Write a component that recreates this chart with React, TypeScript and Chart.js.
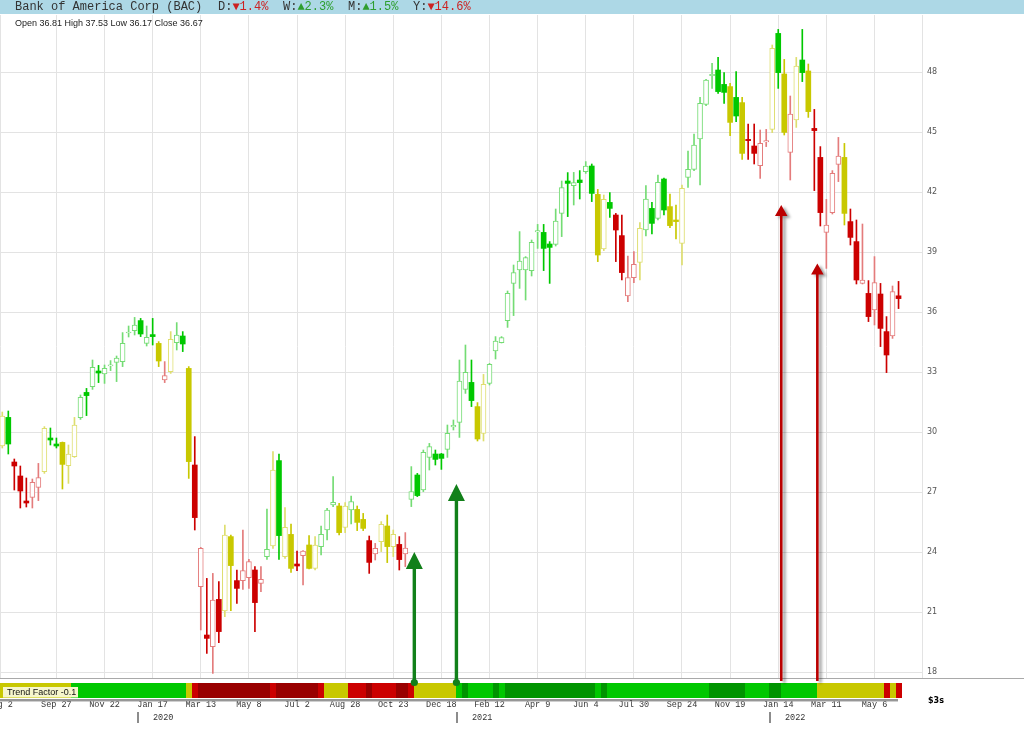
import React, { useEffect, useRef } from "react";
import { Chart, registerables } from "chart.js";

Chart.register(...registerables);

// ---------- DATA ----------
const FIRST_WEEK = -1; // week index 0 = Aug 2, 2019 (weekly bars)

const opens = [
  29.3, 30.73, 28.5, 27.8, 26.55, 26.73, 27.23, 28.02, 29.7, 29.4,
  29.48, 28.32, 28.77, 30.72, 31.98, 32.27, 33.05, 32.9, 33.3, 33.48,
  33.52, 34.95, 35.07, 35.57, 34.43, 34.87, 34.43, 32.6, 33.02, 34.47,
  34.8, 33.18, 28.35, 22.27, 19.85, 19.27, 21.63, 21.05, 24.77, 22.57,
  22.57, 22.72, 23.1, 22.43, 23.77, 24.3, 28.57, 23.77, 24.88, 23.4,
  23.82, 24.35, 23.18, 24.27, 25.1, 26.35, 26.3, 25.23, 26.1, 26.13,
  25.63, 24.57, 23.9, 24.52, 25.3, 24.27, 24.38, 23.9, 26.63, 27.85,
  27.1, 28.73, 28.9, 28.9, 29.13, 30.25, 30.48, 32.13, 32.48, 31.27,
  29.93, 32.43, 34.05, 34.47, 35.57, 37.43, 38.1, 38.1, 38.07, 40.0,
  39.98, 39.4, 39.38, 40.93, 42.55, 42.32, 42.6, 43.02, 43.3, 41.88,
  39.15, 41.48, 40.85, 39.82, 36.8, 37.72, 38.48, 40.1, 41.18, 40.68,
  42.65, 41.27, 40.6, 39.43, 42.73, 43.13, 44.65, 46.38, 47.82, 48.1,
  47.38, 47.27, 46.73, 46.47, 44.63, 44.3, 43.32, 44.5, 45.13, 49.93,
  47.9, 43.98, 45.6, 48.6, 48.05, 45.18, 43.73, 39.98, 40.97, 43.38,
  43.73, 40.52, 39.52, 37.43, 36.93, 36.1, 36.9, 35.02, 34.8, 36.81,
];
const highs = [
  31.0, 31.05, 28.65, 28.3, 27.7, 27.65, 28.43, 30.27, 30.2, 29.7,
  29.5, 29.35, 30.73, 31.85, 32.18, 33.6, 33.33, 33.35, 33.57, 33.8,
  34.97, 35.3, 35.73, 35.68, 35.3, 35.68, 34.52, 33.52, 35.02, 35.47,
  35.02, 33.27, 29.77, 24.23, 22.68, 22.93, 22.52, 25.35, 24.85, 23.1,
  25.1, 23.63, 23.27, 23.27, 26.15, 29.02, 28.9, 26.22, 25.4, 24.05,
  24.07, 24.82, 24.77, 25.3, 26.18, 27.77, 26.43, 26.47, 26.8, 26.3,
  25.93, 24.8, 24.43, 25.52, 25.85, 25.1, 24.77, 24.97, 28.27, 27.93,
  29.1, 29.43, 29.1, 28.93, 30.35, 30.6, 33.6, 34.35, 33.6, 31.47,
  32.88, 33.43, 34.77, 34.77, 37.05, 38.35, 40.02, 38.77, 39.6, 40.38,
  40.38, 39.52, 41.15, 42.55, 42.97, 42.98, 43.07, 43.52, 43.4, 42.13,
  41.85, 41.97, 40.93, 40.85, 38.8, 39.02, 40.47, 42.32, 41.48, 42.85,
  42.7, 41.9, 41.35, 42.35, 44.05, 44.9, 46.73, 47.63, 48.43, 48.73,
  47.97, 47.43, 48.02, 46.73, 45.4, 45.4, 45.1, 45.13, 49.35, 50.13,
  48.63, 46.8, 48.73, 50.13, 48.4, 46.13, 44.27, 41.63, 43.07, 44.73,
  44.43, 41.15, 40.6, 40.4, 37.57, 38.77, 37.43, 35.77, 37.3, 37.53,
];
const lows = [
  29.2, 28.9, 27.1, 26.2, 26.25, 26.2, 26.57, 27.93, 29.35, 29.2,
  27.15, 27.43, 28.73, 30.63, 30.82, 32.13, 32.47, 32.43, 33.07, 32.52,
  33.27, 34.75, 34.85, 34.77, 34.3, 34.35, 33.27, 32.47, 32.93, 34.1,
  34.02, 27.68, 25.1, 20.1, 18.93, 17.93, 19.47, 20.77, 21.07, 21.43,
  22.13, 22.18, 20.02, 22.02, 23.63, 24.18, 23.63, 23.68, 22.98, 23.07,
  22.35, 23.15, 23.1, 23.85, 24.6, 26.27, 24.85, 24.97, 25.4, 25.07,
  25.07, 22.93, 23.6, 24.02, 23.47, 23.77, 23.1, 23.27, 26.27, 26.77,
  27.02, 28.1, 28.35, 28.13, 28.73, 30.1, 29.73, 31.93, 31.27, 29.55,
  29.55, 32.35, 33.65, 34.45, 35.23, 35.82, 37.18, 36.6, 37.8, 39.18,
  38.07, 37.43, 39.3, 39.77, 40.77, 41.35, 41.65, 42.93, 41.52, 38.52,
  39.07, 40.73, 38.52, 37.6, 36.52, 37.47, 37.6, 39.8, 39.9, 40.6,
  40.85, 40.22, 39.65, 38.35, 42.23, 43.07, 42.35, 46.32, 47.18, 46.93,
  46.43, 44.82, 45.52, 43.63, 43.63, 43.4, 42.68, 44.27, 44.97, 47.18,
  44.85, 42.6, 45.23, 47.52, 45.73, 42.07, 40.3, 38.18, 40.9, 42.52,
  40.35, 39.35, 37.4, 37.4, 35.52, 35.35, 34.27, 32.97, 34.68, 36.17,
];
const closes = [
  30.8, 29.4, 28.3, 27.05, 26.45, 27.48, 27.72, 30.18, 29.6, 29.3,
  28.38, 28.9, 30.35, 31.73, 31.82, 33.23, 32.95, 33.18, 33.36, 33.7,
  34.43, 35.0, 35.35, 34.9, 34.73, 34.77, 33.55, 32.82, 34.63, 34.85,
  34.4, 28.52, 25.72, 24.18, 19.68, 21.6, 20.02, 24.85, 23.32, 22.18,
  23.07, 23.52, 21.47, 22.63, 24.13, 28.1, 24.82, 25.23, 23.18, 23.3,
  24.05, 23.18, 24.35, 24.88, 26.1, 26.48, 24.97, 26.3, 26.52, 25.48,
  25.18, 23.48, 24.18, 25.38, 24.27, 24.88, 23.62, 24.2, 27.02, 26.82,
  28.98, 29.27, 28.63, 28.68, 29.93, 30.33, 32.55, 32.98, 31.57, 29.65,
  32.38, 33.38, 34.55, 34.72, 36.93, 37.97, 38.55, 38.72, 39.48, 40.07,
  39.18, 39.23, 40.55, 42.22, 42.43, 42.47, 42.47, 43.3, 41.93, 38.85,
  41.63, 41.18, 40.1, 37.97, 37.72, 38.38, 40.18, 41.65, 40.43, 42.48,
  41.1, 40.32, 40.52, 42.18, 43.13, 44.35, 46.43, 47.6, 47.88, 47.02,
  46.98, 45.48, 45.8, 43.93, 44.57, 43.93, 44.43, 44.57, 49.18, 47.97,
  44.98, 45.9, 48.3, 47.97, 46.02, 45.07, 40.97, 40.35, 42.93, 43.8,
  40.93, 39.73, 37.6, 37.6, 35.77, 37.47, 35.18, 33.85, 37.02, 36.67,
];
const candleColors = [
  "y","g","r","r","r","r","r","y","g","g",
  "y","y","y","g","g","g","g","g","g","g",
  "g","g","g","g","g","g","y","r","y","g",
  "g","y","r","r","r","r","r","y","y","r",
  "r","r","r","r","g","y","g","y","y","r",
  "r","y","y","g","g","g","y","y","g","y",
  "y","r","r","y","y","y","r","r","g","g",
  "g","g","g","g","g","g","g","g","g","y",
  "y","g","g","g","g","g","g","g","g","g",
  "g","g","g","g","g","g","g","g","g","y",
  "y","g","r","r","r","r","y","g","g","g",
  "g","y","y","y","g","g","g","g","g","g",
  "g","y","g","y","r","r","r","r","y","g",
  "y","r","y","g","y","r","r","r","r","r",
  "y","r","r","r","r","r","r","r","r","r",
];

const tickLabels = [
  "Aug 2", "Sep 27", "Nov 22", "Jan 17", "Mar 13", "May 8", "Jul 2",
  "Aug 28", "Oct 23", "Dec 18", "Feb 12", "Apr 9", "Jun 4", "Jul 30",
  "Sep 24", "Nov 19", "Jan 14", "Mar 11", "May 6",
];
const years = ["2020", "2021", "2022"];
const yearFirstWeek = [22, 75, 127];

const trendStart = [
  -2, 11, 30, 31, 32, 44, 45, 52, 53, 57,
  60, 61, 65, 67, 68, 75, 76, 77, 81, 82,
  83, 98, 99, 100, 117, 123, 127, 129, 135, 146,
  147, 148,
];
const trendLevel = [
  "y", "g", "y", "r", "R", "r", "R", "r", "y", "r",
  "R", "r", "R", "r", "y", "g", "G", "g", "G", "g",
  "G", "g", "G", "g", "G", "g", "G", "g", "y", "r",
  "y", "r",
];
const LAST_WEEK = 148;

const signalWeek = [67.5, 74.5, 128.5, 134.5];
const signalPrice = [24.0, 27.4, 41.35, 38.43];
const signalType = ["buy", "buy", "sell", "sell"];

// ---------- STYLE ----------
const FULL: Record<string, string> = { g: "#00c800", y: "#c8c800", r: "#cc0000" };
const LIGHT: Record<string, string> = { g: "#74dc74", y: "#dede6e", r: "#e47c7c" };
const TREND: Record<string, string> = {
  g: "#00c800", G: "#009400", y: "#c8c800", r: "#cc0000", R: "#990000",
};

const overlayPlugin = {
  id: "overlay",
  afterDraw(chart: any) {
    const { ctx, chartArea } = chart;
    const x = chart.scales.x;
    const y = chart.scales.y;
    const bottom = chartArea.bottom;
    const bandTop = bottom + 5;
    const bandH = 15;
    ctx.save();

    // separator line under price panel
    ctx.strokeStyle = "#a9a9a9";
    ctx.lineWidth = 1;
    ctx.beginPath();
    ctx.moveTo(0, bottom + 0.5);
    ctx.lineTo(chart.width, bottom + 0.5);
    ctx.stroke();

    // trend factor band
    for (let s = 0; s < trendStart.length; s++) {
      const endW = s + 1 < trendStart.length ? trendStart[s + 1] - 1 : LAST_WEEK;
      const x0 = Math.max(0, Math.round(x.getPixelForValue(trendStart[s] - 0.5)));
      const x1 = Math.round(x.getPixelForValue(endW + 0.5));
      ctx.fillStyle = TREND[trendLevel[s]];
      ctx.fillRect(x0, bandTop, x1 - x0, bandH);
    }
    const bandEnd = Math.round(x.getPixelForValue(LAST_WEEK + 0.5));
    ctx.strokeStyle = "rgba(70,70,70,0.75)";
    ctx.lineWidth = 1.5;
    ctx.beginPath();
    ctx.moveTo(0, bandTop + bandH + 2);
    ctx.lineTo(bandEnd - 4, bandTop + bandH + 2);
    ctx.stroke();
    ctx.strokeStyle = "rgba(160,160,160,0.5)";
    ctx.lineWidth = 1;
    ctx.beginPath();
    ctx.moveTo(0, bandTop + bandH + 3.5);
    ctx.lineTo(bandEnd - 4, bandTop + bandH + 3.5);
    ctx.stroke();

    // trend factor label
    ctx.fillStyle = "#f6f6cc";
    ctx.fillRect(3, bandTop + 4, 75, 10.5);
    ctx.fillStyle = "#111";
    ctx.font = '9px "Liberation Sans", Arial, sans-serif';
    ctx.textBaseline = "middle";
    ctx.textAlign = "left";
    ctx.fillText("Trend Factor -0.1", 7, bandTop + 9.5);

    // odd label at right
    ctx.font = 'bold 8px "DejaVu Sans", sans-serif';
    ctx.fillStyle = "#000";
    ctx.fillText("$3s", 928, bandTop + bandH + 3);

    // signal arrows
    for (let k = 0; k < signalWeek.length; k++) {
      const px = x.getPixelForValue(signalWeek[k]);
      const tipY = y.getPixelForValue(signalPrice[k]);
      const buy = signalType[k] === "buy";
      const headH = buy ? 17 : 11;
      const headW = buy ? 17 : 12.5;
      const shaftW = buy ? 3.4 : 2.6;
      const baseY = buy ? bandTop - 0.5 : bandTop - 2;
      ctx.save();
      if (!buy) {
        ctx.shadowColor = "rgba(0,0,0,0.4)";
        ctx.shadowOffsetX = 3;
        ctx.shadowOffsetY = 2;
        ctx.shadowBlur = 3;
      }
      ctx.fillStyle = buy ? "#12801a" : "#bb0000";
      ctx.beginPath();
      ctx.moveTo(px, tipY);
      ctx.lineTo(px + headW / 2, tipY + headH);
      ctx.lineTo(px + shaftW / 2, tipY + headH);
      ctx.lineTo(px + shaftW / 2, baseY);
      ctx.lineTo(px - shaftW / 2, baseY);
      ctx.lineTo(px - shaftW / 2, tipY + headH);
      ctx.lineTo(px - headW / 2, tipY + headH);
      ctx.closePath();
      ctx.fill();
      if (buy) {
        ctx.beginPath();
        ctx.arc(px, baseY, 3.6, 0, Math.PI * 2);
        ctx.fill();
      }
      ctx.restore();
    }

    // year markers
    ctx.font = '8.5px "Liberation Mono", "DejaVu Sans Mono", monospace';
    ctx.textBaseline = "middle";
    ctx.textAlign = "left";
    for (let k = 0; k < years.length; k++) {
      const px = Math.round(x.getPixelForValue(yearFirstWeek[k] - 0.38));
      ctx.strokeStyle = "#666";
      ctx.lineWidth = 1.5;
      ctx.beginPath();
      ctx.moveTo(px, 712);
      ctx.lineTo(px, 723);
      ctx.stroke();
      ctx.fillStyle = "#333";
      ctx.fillText(years[k], px + 15, 718);
    }
    ctx.restore();
  },
};

export default function App() {
  const canvasRef = useRef<HTMLCanvasElement | null>(null);

  useEffect(() => {
    const canvas = canvasRef.current;
    if (!canvas) return;
    const weeks = opens.map((_, k) => FIRST_WEEK + k);
    const isUp = (k: number) => closes[k] >= opens[k];
    const wickData = weeks.map((w, k) => ({ x: w, y: [lows[k], highs[k]] }));
    const bodyData = weeks.map((w, k) => ({
      x: w,
      y: [Math.min(opens[k], closes[k]), Math.max(opens[k], closes[k])],
    }));

    const chart = new Chart(canvas, {
      type: "bar",
      data: {
        datasets: [
          {
            label: "body",
            data: bodyData as any,
            order: 0,
            grouped: false,
            barThickness: 5,
            minBarLength: 1,
            borderSkipped: false,
            backgroundColor: weeks.map((_, k) => (isUp(k) ? "#ffffff" : FULL[candleColors[k]])),
            borderColor: weeks.map((_, k) => (isUp(k) ? LIGHT[candleColors[k]] : FULL[candleColors[k]])),
            borderWidth: weeks.map((_, k) => (isUp(k) ? 1 : 0)),
          } as any,
          {
            label: "wick",
            data: wickData as any,
            order: 1,
            grouped: false,
            barThickness: 1,
            borderWidth: 0,
            backgroundColor: weeks.map((_, k) => (isUp(k) ? LIGHT[candleColors[k]] : FULL[candleColors[k]])),
          } as any,
        ],
      },
      options: {
        animation: false,
        responsive: false,
        devicePixelRatio: 1,
        layout: { padding: { top: 15, left: 0, right: 0, bottom: 0 } },
        plugins: { legend: { display: false }, tooltip: { enabled: false } },
        scales: {
          x: {
            type: "linear",
            min: -1.38,
            max: 151.9,
            offset: false,
            position: "bottom",
            grid: { color: "#e3e3e3", lineWidth: 1, drawTicks: false, offset: false },
            border: { display: false },
            ticks: {
              stepSize: 8,
              autoSkip: false,
              maxRotation: 0,
              padding: 22,
              color: "#333",
              font: { family: '"Liberation Mono", "DejaVu Sans Mono", monospace', size: 8.5 },
              callback: (v: any) => tickLabels[Math.round(Number(v) / 8)] ?? "",
            },
            afterFit: (s: any) => {
              s.height = 57;
              s.paddingLeft = 0;
              s.paddingRight = 0;
            },
          } as any,
          y: {
            type: "linear",
            position: "right",
            min: 17.7,
            max: 50.85,
            grid: { color: "#e3e3e3", lineWidth: 1, drawTicks: false },
            border: { display: false },
            ticks: {
              stepSize: 3,
              includeBounds: false,
              padding: 5,
              color: "#555",
              font: { family: '"DejaVu Sans", sans-serif', size: 8 },
            },
            afterFit: (s: any) => {
              s.width = 102;
              s.paddingTop = 0;
              s.paddingBottom = 0;
            },
          } as any,
        },
      },
      plugins: [overlayPlugin],
    });
    return () => chart.destroy();
  }, []);

  const mono = '"Liberation Mono", "DejaVu Sans Mono", monospace';
  const part = (left: number, children: React.ReactNode) => (
    <span
      style={{
        position: "absolute",
        left,
        top: 0,
        font: `12px/14px ${mono}`,
        color: "#333",
        whiteSpace: "pre",
      }}
    >
      {children}
    </span>
  );

  return (
    <div
      style={{
        position: "absolute",
        left: 0,
        top: 0,
        width: 1024,
        height: 735,
        background: "#ffffff",
        overflow: "hidden",
      }}
    >
      <canvas
        ref={canvasRef}
        width={1024}
        height={735}
        style={{ position: "absolute", left: 0, top: 0, width: 1024, height: 735 }}
      />
      <div
        style={{
          position: "absolute",
          left: 0,
          top: 0,
          width: 1024,
          height: 14,
          background: "#add8e6",
        }}
      >
        {part(15, "Bank of America Corp (BAC)")}
        {part(218, <>D:<span style={{ color: "#cc2222" }}>▼1.4%</span></>)}
        {part(283, <>W:<span style={{ color: "#2e9e2e" }}>▲2.3%</span></>)}
        {part(348, <>M:<span style={{ color: "#2e9e2e" }}>▲1.5%</span></>)}
        {part(413, <>Y:<span style={{ color: "#cc2222" }}>▼14.6%</span></>)}
      </div>
      <div
        style={{
          position: "absolute",
          left: 15,
          top: 18,
          font: '9px/10px "Liberation Sans", Arial, sans-serif',
          color: "#222",
          whiteSpace: "pre",
        }}
      >
        Open 36.81 High 37.53 Low 36.17 Close 36.67
      </div>
    </div>
  );
}
